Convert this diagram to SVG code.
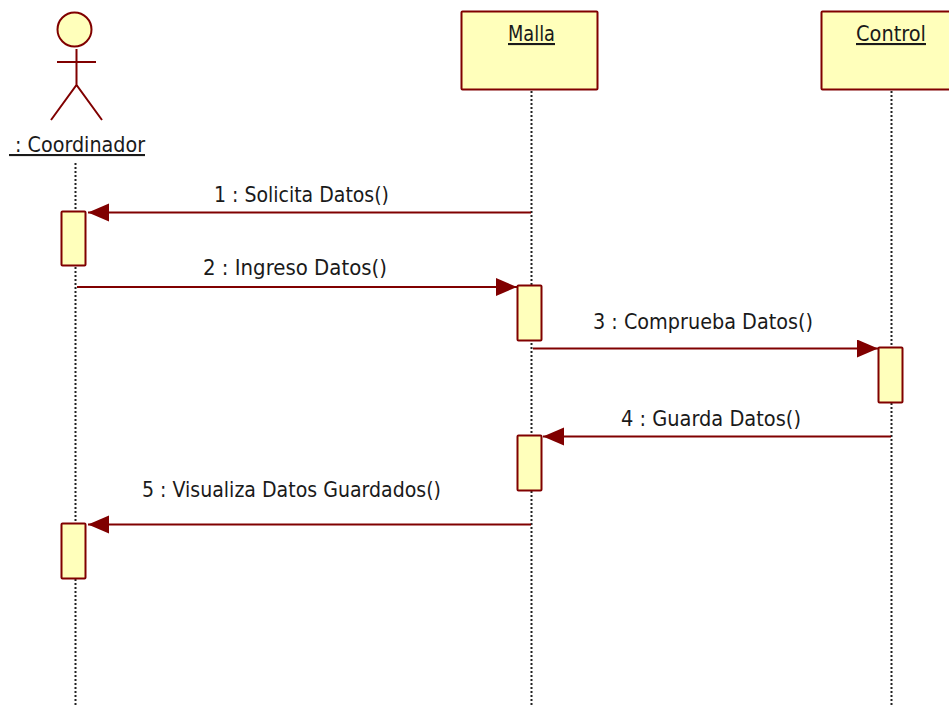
<svg xmlns="http://www.w3.org/2000/svg" width="949" height="706" viewBox="0 0 949 706">
<style>
text{font-family:"DejaVu Sans Condensed","DejaVu Sans","Noto Sans",sans-serif;font-stretch:condensed;font-size:21px;fill:#1a1a1a;text-anchor:middle}
.u{text-decoration:underline}
.n{fill:#ffffbb;stroke:#800000;stroke-width:2}
.l{stroke:#800000;stroke-width:2;fill:none}
.ll{stroke:#222;stroke-width:2;stroke-dasharray:2 2;fill:none}
.c{stroke:#800000;stroke-width:2;fill:none;marker-end:url(#a)}
</style>
<defs><marker id="a" markerUnits="userSpaceOnUse" markerWidth="22" markerHeight="20" refX="21" refY="9" orient="auto"><path d="M0 0L21 9L0 18Z" fill="#800000"/></marker></defs>
<rect width="949" height="706" fill="#fff"/>
<g id="lifelines">
<path class="ll" d="M75.5 163V706"/><path class="ll" d="M531.5 91V706"/><path class="ll" d="M891.5 91V706"/>
</g>
<g id="coordinador">
<circle class="n" cx="74.500" cy="29.500" r="17"/>
<path class="l" d="M76.500 49V85M57 62H96M51 120L76.500 85L102 120"/>
<text class="u" x="77" y="152" xml:space="preserve" textLength="136" lengthAdjust="spacingAndGlyphs"> : Coordinador</text>
</g>
<g id="malla"><rect class="n" x="461.500" y="11.500" width="136" height="78" rx="1"/><text class="u" x="531.500" y="41" textLength="47" lengthAdjust="spacingAndGlyphs">Malla</text></g>
<g id="control"><rect class="n" x="821.500" y="11.500" width="140" height="78" rx="1"/><text class="u" x="891" y="41" textLength="70" lengthAdjust="spacingAndGlyphs">Control</text></g>
<g id="activations">
<rect class="n" x="61.500" y="211.500" width="24" height="54" rx="1"/>
<rect class="n" x="517.500" y="285.500" width="24" height="55" rx="1"/>
<rect class="n" x="878.500" y="347.500" width="24" height="55" rx="1"/>
<rect class="n" x="517.500" y="435.500" width="24" height="55" rx="1"/>
<rect class="n" x="61.500" y="523.500" width="24" height="55" rx="1"/>
</g>
<g id="connectors">
<path class="c" d="M531 212.500H88"/>
<path class="c" d="M77 287H517"/>
<path class="c" d="M533 348.500H878"/>
<path class="c" d="M891 436.500H543"/>
<path class="c" d="M531 524.500H88"/>
</g>
<g id="labels">
<text x="301.500" y="202" textLength="175" lengthAdjust="spacingAndGlyphs">1 : Solicita Datos()</text>
<text x="295" y="275" textLength="184" lengthAdjust="spacingAndGlyphs">2 : Ingreso Datos()</text>
<text x="703" y="329" textLength="220" lengthAdjust="spacingAndGlyphs">3 : Comprueba Datos()</text>
<text x="711" y="426" textLength="180" lengthAdjust="spacingAndGlyphs">4 : Guarda Datos()</text>
<text x="291.500" y="497" textLength="299" lengthAdjust="spacingAndGlyphs">5 : Visualiza Datos Guardados()</text>
</g>
</svg>
